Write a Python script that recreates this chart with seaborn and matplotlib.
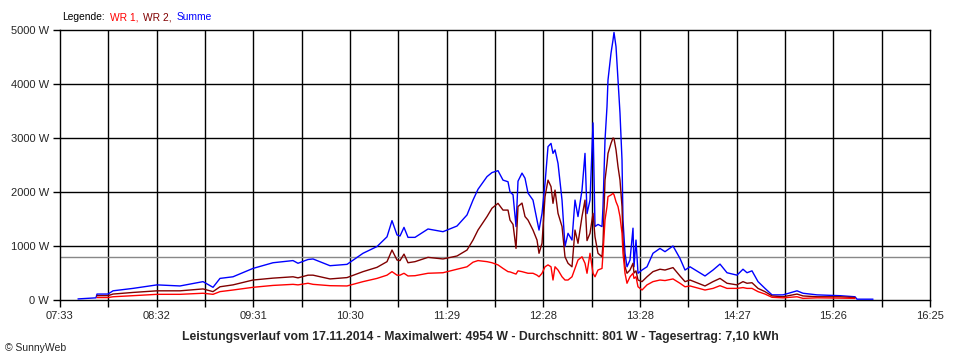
import numpy as np
import pandas as pd
import seaborn as sns
import matplotlib.pyplot as plt
from matplotlib.ticker import FixedLocator, NullFormatter

zeit = [
    "07:44:00", "07:55:00", "07:55:38", "08:02:21", "08:05:25", "08:17:38", "08:32:19", "08:46:23",
    "09:00:27", "09:06:34", "09:10:50", "09:18:47", "09:31:01", "09:43:15", "09:55:29", "09:58:32",
    "10:04:39", "10:07:43", "10:18:06", "10:28:30", "10:38:17", "10:46:51", "10:52:58", "10:56:01",
    "10:59:05", "11:00:55", "11:03:21", "11:05:48", "11:10:05", "11:18:02", "11:27:12", "11:35:46",
    "11:41:53", "11:45:33", "11:48:36", "11:54:07", "11:57:10", "12:00:50", "12:03:54", "12:06:57",
    "12:08:11", "12:10:01", "12:11:51", "12:13:04", "12:15:31", "12:17:21", "12:19:11", "12:22:14",
    "12:24:41", "12:25:55", "12:27:45", "12:29:35", "12:31:25", "12:33:15", "12:34:28", "12:35:42",
    "12:37:32", "12:39:59", "12:41:48", "12:43:39", "12:46:05", "12:47:55", "12:49:45", "12:52:12",
    "12:54:02", "12:55:16", "12:57:06", "12:58:56", "13:00:09", "13:01:59", "13:04:26", "13:05:03",
    "13:06:16", "13:07:29", "13:08:06", "13:09:56", "13:11:10", "13:11:46", "13:13:00", "13:14:13",
    "13:15:26", "13:16:40", "13:17:16", "13:18:30", "13:19:43", "13:21:33", "13:23:23", "13:24:00",
    "13:25:13", "13:26:27", "13:28:54", "13:31:57", "13:35:36", "13:39:53", "13:42:57", "13:47:51",
    "13:52:07", "13:55:12", "13:58:15", "14:07:25", "14:12:19", "14:16:35", "14:20:52", "14:26:59",
    "14:30:39", "14:33:06", "14:36:09", "14:39:50", "14:44:06", "14:48:23", "14:55:07", "15:03:41",
    "15:07:21", "15:15:54", "15:29:58", "15:39:09", "15:40:22", "15:50:09",
]
wr1 = [
    np.nan, np.nan, 45, 45, 60, 80, 105, 105,
    125, 105, 155, 185, 235, 270, 290, 280,
    310, 290, 265, 260, 340, 400, 460, 525,
    460, 460, 495, 445, 450, 495, 505, 570,
    615, 700, 730, 710, 690, 650, 585, 525,
    520, 500, 480, 540, 525, 510, 495, 495,
    460, 430, 495, 615, 650, 615, 370, 615,
    555, 430, 370, 370, 430, 585, 740, 800,
    680, 495, 865, 495, 430, 555, 585, 865,
    1480, 1730, 1915, 1945, 1975, 1950, 1820, 1730,
    1545, 1235, 865, 495, 310, 430, 495, 400,
    430, 245, 185, 280, 340, 370, 360, 390,
    310, 245, 260, 185, 215, 265, 215, 215,
    230, 215, 215, 155, 110, 50, 40, 60,
    30, 40, 35, 30, np.nan, np.nan,
]
wr2 = [
    np.nan, np.nan, 80, 80, 110, 140, 170, 170,
    205, 155, 245, 280, 370, 405, 430, 410,
    460, 460, 390, 415, 525, 605, 710, 925,
    740, 730, 850, 690, 710, 790, 760, 815,
    925, 1110, 1295, 1545, 1700, 1790, 1665, 1665,
    1480, 1400, 955, 1730, 1795, 1545, 1480, 1295,
    1110, 865, 1050, 1915, 2220, 2100, 1790, 2035,
    1605, 1360, 800, 680, 615, 1295, 1050, 1545,
    1850, 1100, 1235, 1605, 1170, 865, 800, 1050,
    2220, 2530, 2715, 2900, 3000, 2990, 2780, 2470,
    2220, 1730, 1110, 615, 495, 555, 680, 500,
    540, 370, 340, 430, 525, 570, 555, 600,
    445, 340, 370, 260, 340, 400, 310, 280,
    340, 310, 320, 215, 155, 75, 60, 110,
    75, 60, 60, 45, np.nan, np.nan,
]
summe = [
    20, 40, 110, 110, 170, 215, 280, 260,
    340, 235, 400, 430, 585, 690, 730, 680,
    750, 760, 635, 660, 865, 990, 1170, 1470,
    1205, 1185, 1345, 1160, 1160, 1315, 1265, 1370,
    1575, 1850, 2050, 2285, 2360, 2395, 2220, 2190,
    2000, 1950, 1360, 2200, 2350, 2255, 1980, 1850,
    1480, 1295, 1605, 2160, 2840, 2900, 2715, 2780,
    2530, 1850, 990, 1235, 1110, 1850, 1545, 2035,
    2715, 1600, 1850, 3280, 1360, 1400, 1360, 1730,
    2960, 3580, 4075, 4570, 4815, 4954, 4690, 4075,
    3460, 2590, 1480, 865, 615, 740, 1330, 615,
    1110, 495, 555, 615, 865, 955, 895, 1000,
    770, 555, 615, 445, 555, 665, 505, 460,
    570, 505, 540, 340, 215, 95, 95, 170,
    125, 95, 80, 60, 15, 15,
]

tick_labels = ["07:33", "08:32", "09:31", "10:30", "11:29", "12:28", "13:28", "14:27", "15:26", "16:25"]
y_ticks = [0, 1000, 2000, 3000, 4000, 5000]
durchschnitt = 801
titel = ("Leistungsverlauf vom 17.11.2014 - Maximalwert: 4954 W - "
         "Durchschnitt: 801 W - Tagesertrag: 7,10 kWh")


def to_min(s):
    h, m, sec = (int(p) for p in s.split(":"))
    return h * 60 + m + sec / 60.0


df = pd.DataFrame({"t": [to_min(z) for z in zeit], "WR 1": wr1, "WR 2": wr2, "Summe": summe})

sns.set_style("white")
plt.rcParams["font.family"] = ["Liberation Sans", "DejaVu Sans"]

fig = plt.figure(figsize=(9.6, 3.6), dpi=100)
ax = fig.add_axes([60 / 960, 1 - 300 / 360, 870 / 960, 270 / 360])

t0, t1 = 453, 985
step = (t1 - t0) / 18
major = [t0 + 2 * k * step for k in range(10)]
minor = [t0 + (2 * k + 1) * step for k in range(9)]

for s in y_ticks[1:-1]:
    ax.axhline(s, color="black", lw=1, zorder=1)
for x in major[1:-1] + minor:
    ax.axvline(x, color="black", lw=1, zorder=1)
ax.axhline(durchschnitt, color="#888888", lw=1, zorder=1)

farben = {"Summe": "#0000ff", "WR 2": "#800000", "WR 1": "#ff0000"}
for name in ["Summe", "WR 2", "WR 1"]:
    sns.lineplot(data=df, x="t", y=name, ax=ax, color=farben[name], lw=1,
                 estimator=None, zorder=3)

ax.set_xlim(t0, t1)
ax.set_ylim(0, 5000)
ax.xaxis.set_major_locator(FixedLocator(major))
ax.xaxis.set_minor_locator(FixedLocator(minor))
ax.xaxis.set_minor_formatter(NullFormatter())
ax.set_xticklabels(tick_labels)
ax.set_yticks(y_ticks)
ax.set_yticklabels([f"{v} W" for v in y_ticks])
ax.tick_params(axis="both", which="both", direction="out", length=5, width=1,
               color="black", labelsize=8, pad=3, left=True, bottom=True)
ax.set_xlabel("")
ax.set_ylabel("")
for sp in ax.spines.values():
    sp.set_color("black")
    sp.set_linewidth(1)

# Legende als farbiger Text
renderer = fig.canvas.get_renderer()
x = 62 / 960
for txt, col in [("Legende:", "black"), ("WR 1,", "#ff0000"), ("WR 2,", "#800000"), ("Summe", "#0000ff")]:
    t = fig.text(x, 1 - 17 / 360, txt, color=col, fontsize=7.4, va="center", ha="left")
    bb = t.get_window_extent(renderer)
    x += (bb.width + 5) / 960

fig.text(480 / 960, 1 - 337 / 360, titel, fontsize=8.8, fontweight="bold", ha="center", va="center")
fig.text(5 / 960, 1 - 348 / 360, "\u00a9 SunnyWeb", fontsize=7.5, ha="left", va="center")

fig.savefig("out.png", dpi=100, facecolor="white")
